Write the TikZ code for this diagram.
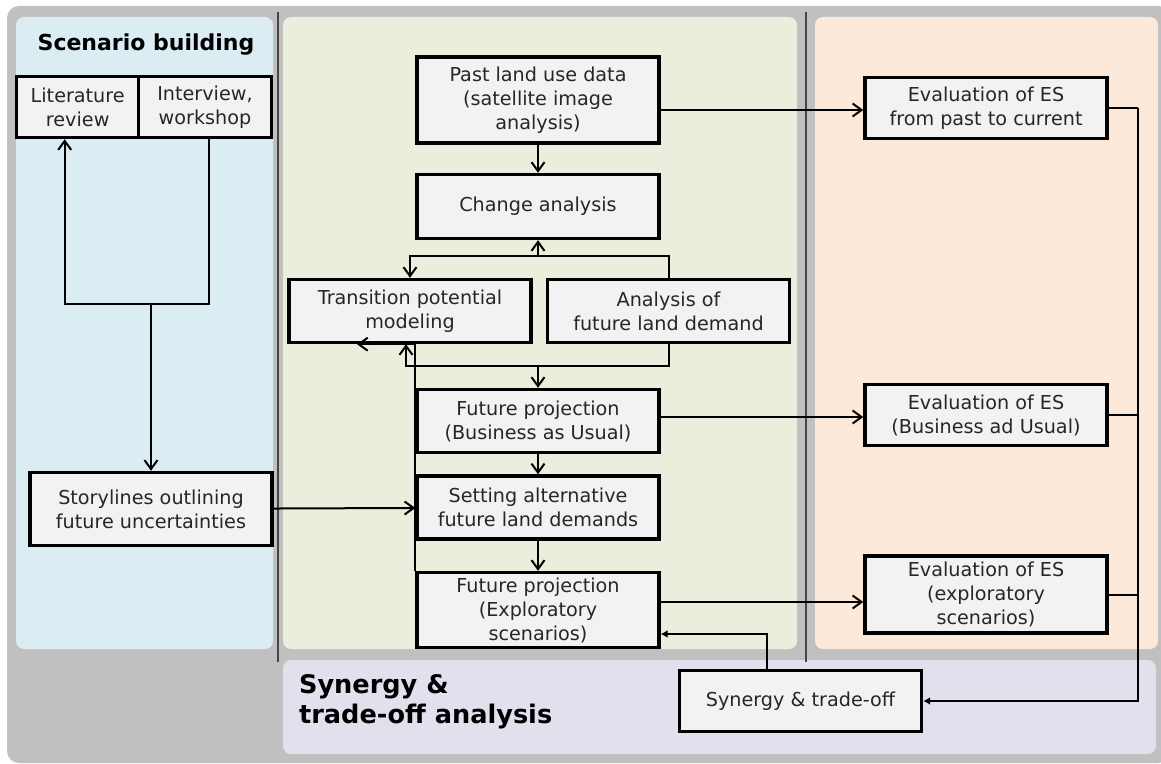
\documentclass[tikz,border=0pt]{standalone}
\usepackage{fontspec}
\setmainfont{DejaVu Sans}
\usetikzlibrary{arrows.meta}
\definecolor{framegray}{RGB}{192,192,192}
\definecolor{panelblue}{RGB}{219,236,242}
\definecolor{panelgreen}{RGB}{234,238,221}
\definecolor{panelorange}{RGB}{253,233,218}
\definecolor{panelpurple}{RGB}{228,223,236}
\definecolor{boxgray}{RGB}{242,242,242}
\definecolor{sepgray}{RGB}{70,70,70}
\begin{document}
\begin{tikzpicture}
          [x=0.5pt,y=-0.5pt,
          font=\fontsize{9.6}{12}\selectfont,
          box/.style={shape=rectangle,draw=black,fill=boxgray,text=black!85,line width=1.7pt,
            align=center,inner sep=1pt,minimum width=121pt,minimum height=31.5pt},
          panel/.style={rounded corners=4pt,draw=none},
          title/.style 2 args={font=\fontsize{#1}{#2}\selectfont\bfseries},
          arc/.style={-{Straight Barb[length=4.5pt,width=6.5pt]},line width=1pt},
          farc/.style={-{Latex[length=3.5pt,width=4pt]},line width=1pt},
          edge/.style={line width=1pt},
          sep/.style={draw=sepgray,line width=0.75pt}]

          % frame and panels
          \useasboundingbox (0,0) rectangle (1161,764);
          \fill[framegray,rounded corners=6pt] (7,6) rectangle (1170,763);
          \fill[panel,panelblue] (16,17) rectangle (273,649);
          \fill[panel,panelgreen] (283,17) rectangle (797,649);
          \fill[panel,panelorange] (815,17) rectangle (1158,649);
          \fill[panel,panelpurple] (283,660) rectangle (1156,754);
          \draw[sep] (278,12) -- (278,662);
          \draw[sep] (806,12) -- (806,662);

          \node (t1) [title={11}{13}] at (146,45) {Scenario building};
          \node (t2) [title={12.8}{15},anchor=west,align=left] at (292,702) {Synergy \&\\trade-off analysis};

          % scenario building
          \node (lit) [box,minimum width=61.25pt,minimum height=30.5pt] at (77.7,107) {Literature\\review};
          \node (int) [box,minimum width=66.25pt,minimum height=30.5pt] at (205,107) {Interview,\\workshop};
          \node (story) [box,minimum height=36.5pt] at (151,509) {Storylines outlining\\future uncertainties};
          \coordinate (j1) at (151,304);

          % land use modelling
          \node (past) [box,minimum height=43pt] at (538,100) {Past land use data\\(satellite image\\analysis)};
          \node (change) [box,minimum height=32pt] at (538,206.5) {Change analysis};
          \node (trans) [box] at (410,311) {Transition potential\\modeling};
          \node (demand) [box] at (668.5,311) {Analysis of\\future land demand};
          \node (bau) [box] at (538,421) {Future projection\\(Business as Usual)};
          \node (alt) [box] at (538,507.5) {Setting alternative\\future land demands};
          \node (expl) [box,minimum height=37.5pt] at (538,610) {Future projection\\(Exploratory\\scenarios)};
          \coordinate (j2) at (538,256);
          \coordinate (j3) at (538,366);

          % evaluation
          \node (evpast) [box,minimum height=30.5pt] at (986,108) {Evaluation of ES\\from past to current};
          \node (evbau) [box,minimum height=30.5pt] at (986,415) {Evaluation of ES\\(Business ad Usual)};
          \node (evexp) [box,minimum height=38.5pt] at (986,594.5) {Evaluation of ES\\(exploratory\\scenarios)};
          \node (syn) [box,minimum height=30.5pt] at (800.5,701) {Synergy \& trade-off};
          \coordinate (bus) at (1138,108);

          % connectors
          \draw [edge] (int.south -| 209,0) |- (j1);
          \draw [arc] (j1) -| ([xshift=-6.5pt]lit.south);
          \draw [arc] (j1) -- (story);
          \draw [arc] (story) -- (alt);

          \draw [arc] (past) -- (change);
          \draw [arc] (past.east |- 0,110) -- (evpast.west |- 0,110);
          \draw [edge] (demand.north) |- (j2);
          \draw [arc] (j2) -- (change);
          \draw [arc] (j2) -| (trans.north);
          \draw [edge] (demand.south) |- (j3);
          \draw [arc] (j3) -| ([xshift=-2pt]trans.south);
          \draw [arc] (j3) -- (bau);
          \draw [arc] (expl.north west) |- ([xshift=-26.5pt]trans.south);
          \draw [arc] (bau) -- (alt);
          \draw [arc] (alt) -- (expl);
          \draw [arc] (bau.east |- 0,417) -- (evbau.west |- 0,417);
          \draw [arc] (expl.east |- 0,602) -- (evexp.west |- 0,602);

          \draw [edge] (evpast.east) -- (bus);
          \draw [edge] (evbau.east) -- (evbau.east -| bus);
          \draw [edge] (evexp.east) -- (evexp.east -| bus);
          \draw [farc] (bus) |- (syn.east);
          \draw [farc] (syn.north -| 767,0) |- (expl.east |- 0,634);

        \end{tikzpicture}
\end{document}
